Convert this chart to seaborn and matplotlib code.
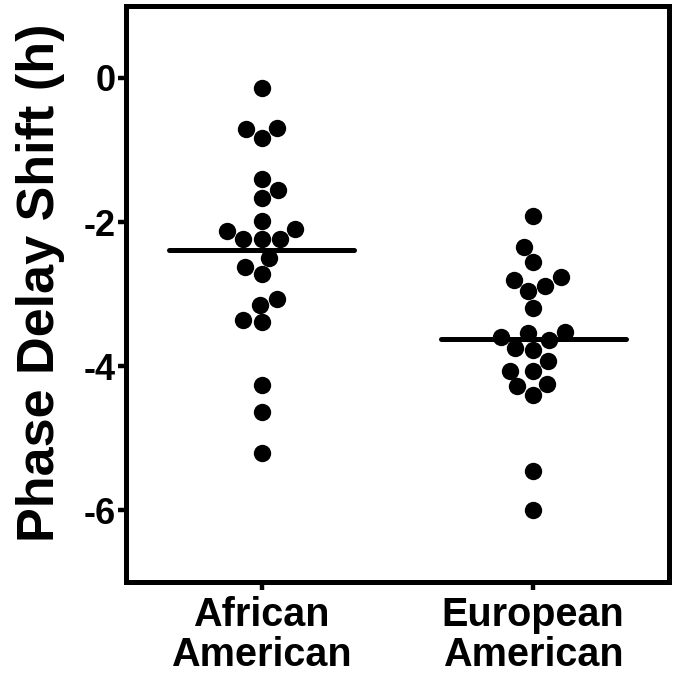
import matplotlib
matplotlib.use("Agg")
import matplotlib.pyplot as plt
import seaborn as sns
import pandas as pd

groups = ["African\nAmerican", "European\nAmerican"]
african = [-0.14, -0.71, -0.83, -0.70, -1.41, -1.67, -1.56, -1.98, -2.13,
           -2.24, -2.24, -2.23, -2.09, -2.50, -2.72, -2.62, -3.07, -3.15,
           -3.36, -3.39, -4.26, -4.64, -5.21]
european = [-1.91, -2.34, -2.55, -2.76, -2.89, -2.81, -2.96, -3.19, -3.54,
            -3.53, -3.64, -3.60, -3.75, -3.77, -3.93, -4.06, -4.07, -4.25,
            -4.28, -4.40, -5.46, -6.00]
y_ticks = [0, -2, -4, -6]
y_tick_labels = ["0", "-2", "-4", "-6"]
y_label = "Phase Delay Shift (h)"

df = pd.DataFrame({
    "group": [groups[0]] * len(african) + [groups[1]] * len(european),
    "shift": african + european,
})

sns.set_theme(style="ticks")
plt.rcParams["font.family"] = ["Liberation Sans", "DejaVu Sans"]
plt.rcParams["font.weight"] = "bold"
for k in ["text.color", "axes.labelcolor", "xtick.color", "ytick.color",
          "axes.edgecolor"]:
    plt.rcParams[k] = "black"

fig = plt.figure(figsize=(6.75, 6.78), dpi=100)
ax = fig.add_axes([0.1862, 0.1409, 0.805, 0.8506])

sns.swarmplot(data=df, x="group", y="shift", order=groups, color="black",
              size=12.5, linewidth=0, ax=ax)

means = df.groupby("group")["shift"].mean()
for i, g in enumerate(groups):
    ax.hlines(means[g], i - 0.34, i + 0.34, color="black", lw=3.6,
              capstyle="round", zorder=3)

ax.set_xlim(-0.5, 1.5)
ax.set_ylim(-7, 1)
ax.set_yticks(y_ticks)
ax.set_yticklabels(y_tick_labels, fontsize=26, fontweight="bold")
ax.set_xticks(range(len(groups)))
ax.set_xticklabels(groups, fontsize=28.5, fontweight="bold")
for t in ax.get_xticklabels():
    t.set_linespacing(1.08)
ax.set_xlabel("")
ax.set_ylabel(y_label, fontsize=37.5, fontweight="bold")
ax.yaxis.set_label_coords(-0.112, 0.519)

for s in ax.spines.values():
    s.set_visible(True)
    s.set_linewidth(3.6)
    s.set_color("black")
ax.tick_params(axis="both", width=3.2, length=5.5, color="black")
ax.tick_params(axis="y", pad=2)
ax.tick_params(axis="x", pad=4)

fig.savefig("out.png", dpi=100)
